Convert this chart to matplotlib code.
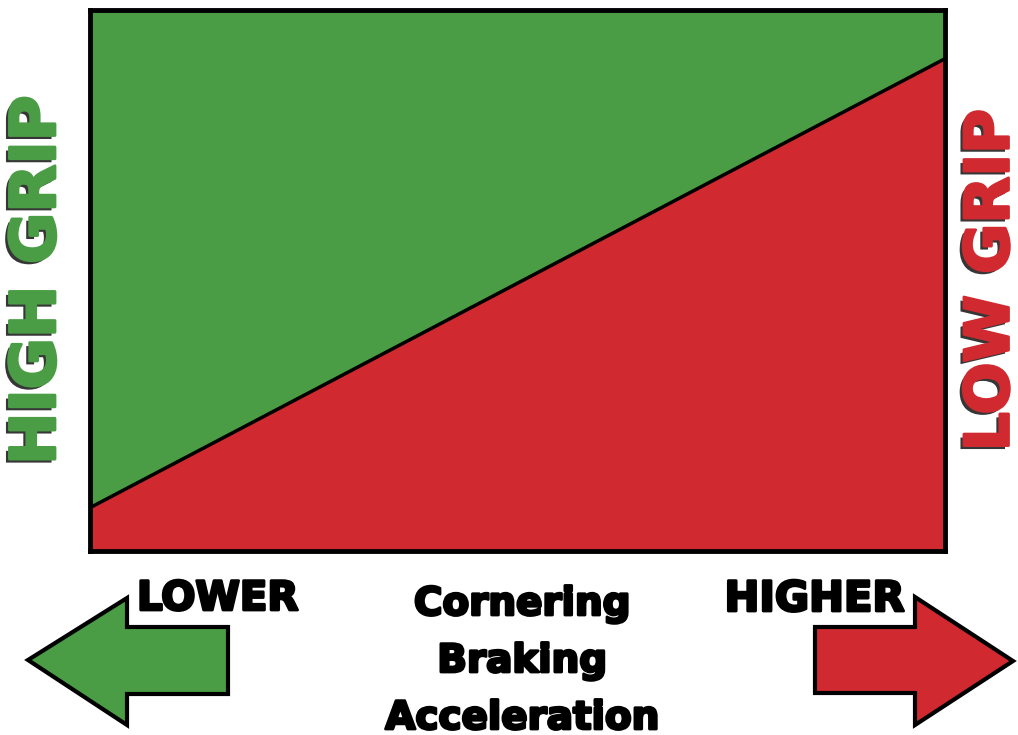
import numpy as np
import matplotlib
matplotlib.use("Agg")
from matplotlib import pyplot as plt
from matplotlib.patches import Polygon
import matplotlib.patheffects as pe

# boundary between high grip (above) and low grip (below)
demand = [0.0, 1.0]
grip_limit = [0.08, 0.91]

side_labels = ["HIGH GRIP", "LOW GRIP"]
arrow_labels = ["LOWER", "HIGHER"]
demand_labels = ["Cornering", "Braking", "Acceleration"]

GREEN = "#4a9d45"
RED = "#d02a30"

fig = plt.figure(figsize=(10.18, 7.35), dpi=100)
fig.patch.set_facecolor("white")

# main chart
ax = fig.add_axes([90 / 1018, 1 - 551 / 735, 855 / 1018, 541 / 735])
ax.fill_between(demand, grip_limit, 1, color=GREEN, lw=0)
ax.fill_between(demand, 0, grip_limit, color=RED, lw=0)
ax.plot(demand, grip_limit, color="k", lw=2.5)
ax.set_xlim(0, 1)
ax.set_ylim(0, 1)
ax.set_xticks([])
ax.set_yticks([])
for s in ax.spines.values():
    s.set_linewidth(3.5)
    s.set_color("k")

# overlay in pixel coordinates for arrows / labels
ov = fig.add_axes([0, 0, 1, 1], zorder=-1)
ov.set_xlim(0, 1018)
ov.set_ylim(735, 0)
ov.axis("off")

left_arrow = [(28, 660), (127, 598), (127, 627), (228, 627),
              (228, 694), (127, 694), (127, 725)]
right_arrow = [(1013, 661), (915, 597), (915, 627), (815, 627),
               (815, 693), (915, 693), (915, 725)]
ov.add_patch(Polygon(left_arrow, closed=True, fc=GREEN, ec="k", lw=3, joinstyle="miter"))
ov.add_patch(Polygon(right_arrow, closed=True, fc=RED, ec="k", lw=3, joinstyle="miter"))


def heavy(color, shadow=True):
    fx = []
    if shadow:
        fx.append(pe.withSimplePatchShadow(offset=(-2.5, -2.5), shadow_rgbFace="#202020", alpha=0.9))
    fx.append(pe.Stroke(linewidth=2, foreground=color))
    fx.append(pe.Normal())
    return fx


fig.text(38 / 1018, 1 - 280 / 735, side_labels[0], rotation=90, color=GREEN,
         fontsize=45, fontweight="bold", family="DejaVu Sans",
         ha="center", va="center", path_effects=heavy(GREEN))
fig.text(992 / 1018, 1 - 280 / 735, side_labels[1], rotation=90, color=RED,
         fontsize=44, fontweight="bold", family="DejaVu Sans",
         ha="center", va="center", path_effects=heavy(RED))

fig.text(137 / 1018, 1 - 599 / 735, arrow_labels[0], fontsize=29, fontweight="bold",
         family="DejaVu Sans", ha="left", va="center", path_effects=heavy("k", False))
fig.text(905 / 1018, 1 - 599 / 735, arrow_labels[1], fontsize=30, fontweight="bold",
         family="DejaVu Sans", ha="right", va="center", path_effects=heavy("k", False))

for i, lab in enumerate(demand_labels):
    fig.text(522 / 1018, 1 - (604 + 57 * i) / 735, lab, fontsize=28, fontweight="bold",
             family="DejaVu Sans", ha="center", va="center", path_effects=heavy("k", False))

fig.savefig("out.png", dpi=100, facecolor="white")
